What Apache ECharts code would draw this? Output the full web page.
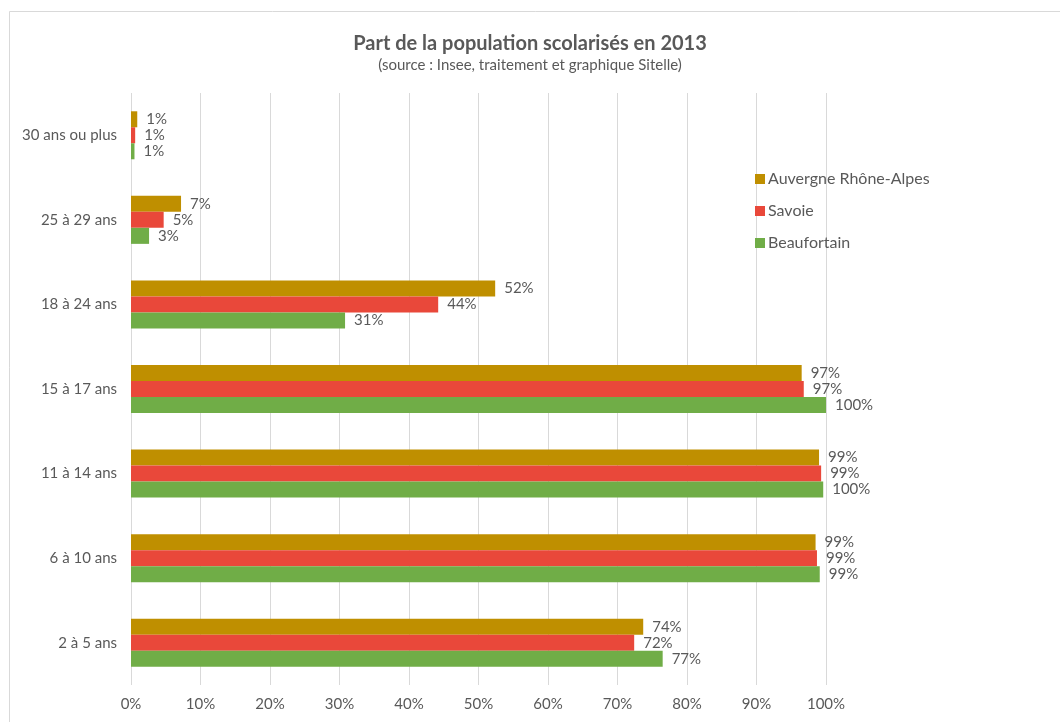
<!DOCTYPE html>
<html>
<head>
<meta charset="utf-8">
<script src="https://cdn.jsdelivr.net/npm/echarts@6/dist/echarts.min.js"></script>
<style>
  html, body { margin: 0; padding: 0; background: #fff; }
  #chart { width: 1060px; height: 722px; }
</style>
</head>
<body>
<div id="chart"></div>
<script>
  // categories, bottom to top
  const categories = ['2 à 5 ans', '6 à 10 ans', '11 à 14 ans', '15 à 17 ans', '18 à 24 ans', '25 à 29 ans', '30 ans ou plus'];
  const auvergne = [73.7, 98.5, 99.0, 96.5, 52.4, 7.2, 0.9];
  const savoie = [72.4, 98.7, 99.3, 96.8, 44.2, 4.7, 0.6];
  const beaufortain = [76.5, 99.1, 99.6, 100, 30.8, 2.6, 0.5];
  const xTicks = [0, 100, 10];

  const font = 'Lato, "Open Sans", sans-serif';
  const grey = '#595959';

  function mkSerie(name, data, color) {
    return {
      name: name,
      type: 'bar',
      data: data,
      barWidth: 16,
      barGap: '0%',
      itemStyle: {color: color},
      label: {
        show: true,
        position: 'right',
        distance: 9,
        color: grey,
        fontFamily: font,
        fontSize: 15,
        formatter: p => Math.max(1, Math.round(p.value)) + '%'
      }
    };
  }

  const chart = echarts.init(document.getElementById('chart'));
  chart.setOption({
    animation: false,
    backgroundColor: '#fff',
    graphic: [{
      type: 'rect',
      shape: {x: 9.5, y: 11.5, width: 1100, height: 800},
      style: {fill: 'none', stroke: '#d9d9d9', lineWidth: 1}
    }],
    title: {
      text: 'Part de la population scolarisés en 2013',
      subtext: '(source : Insee, traitement et graphique Sitelle)',
      left: 'center',
      top: 29,
      itemGap: 4,
      textStyle: {fontFamily: font, fontSize: 20, fontWeight: 'bold', color: grey},
      subtextStyle: {fontFamily: font, fontSize: 15, color: grey}
    },
    legend: {
      orient: 'vertical',
      left: 750,
      top: 166,
      itemWidth: 10,
      itemHeight: 10,
      itemGap: 16,
      icon: 'rect',
      data: ['Auvergne Rhône-Alpes', 'Savoie', 'Beaufortain'],
      textStyle: {fontFamily: font, fontSize: 16, color: grey, padding: [0, 0, 0, -2]}
    },
    grid: {left: 131, right: 234, top: 93, bottom: 37, containLabel: false},
    xAxis: {
      type: 'value',
      min: xTicks[0],
      max: xTicks[1],
      interval: xTicks[2],
      axisLine: {show: false},
      axisTick: {show: false},
      splitLine: {lineStyle: {color: '#d9d9d9'}},
      axisLabel: {formatter: '{value}%', color: grey, fontFamily: font, fontSize: 15, margin: 12}
    },
    yAxis: {
      type: 'category',
      data: categories,
      axisLine: {show: false},
      axisTick: {show: false},
      axisLabel: {color: grey, fontFamily: font, fontSize: 15, margin: 14}
    },
    series: [
      mkSerie('Auvergne Rhône-Alpes', auvergne, '#BF8F00'),
      mkSerie('Savoie', savoie, '#E9483A'),
      mkSerie('Beaufortain', beaufortain, '#70AD47')
    ]
  });
</script>
</body>
</html>
